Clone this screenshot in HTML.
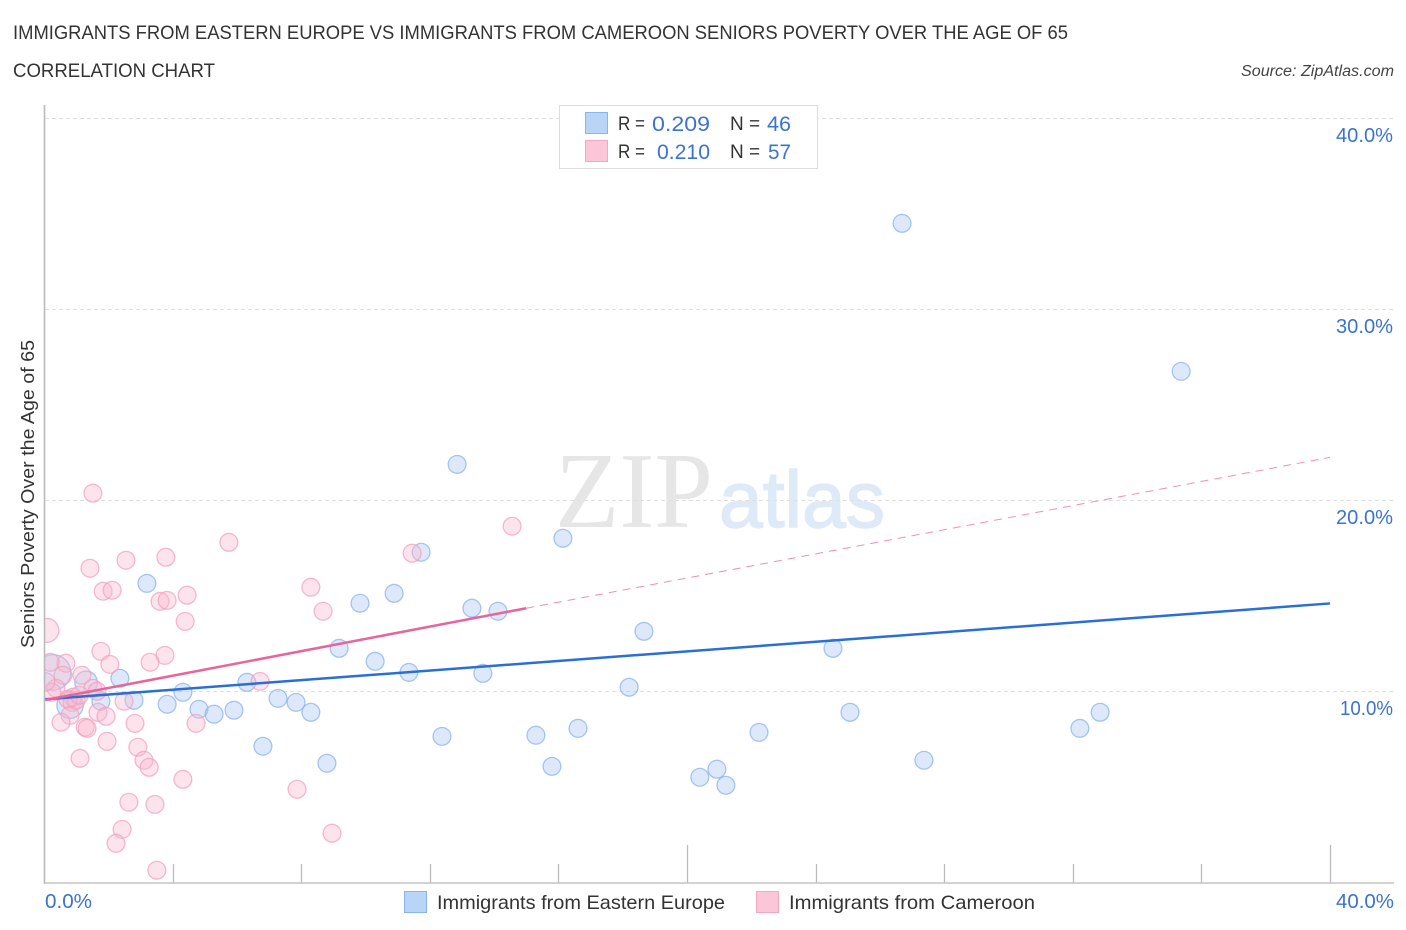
<!DOCTYPE html>
<html>
<head>
<meta charset="utf-8">
<title>Immigrants from Eastern Europe vs Immigrants from Cameroon Correlation Chart</title>
<style>
html,body{margin:0;padding:0;background:#fff;width:1406px;height:930px;overflow:hidden}
svg{display:block;font-family:"Liberation Sans",sans-serif}
</style>
</head>
<body>
<svg id="chart" width="1406" height="930" viewBox="0 0 1406 930">
  <defs>
    <clipPath id="plot-clip"><rect x="45" y="100" width="1360" height="783"/></clipPath>
  </defs>
  <rect x="0" y="0" width="1406" height="930" fill="#fff"/>
  <text x="13" y="39" font-size="19" fill="#333" textLength="1055" lengthAdjust="spacingAndGlyphs">IMMIGRANTS FROM EASTERN EUROPE VS IMMIGRANTS FROM CAMEROON SENIORS POVERTY OVER THE AGE OF 65</text>
  <text x="13" y="77" font-size="19" fill="#333" textLength="202" lengthAdjust="spacingAndGlyphs">CORRELATION CHART</text>
  <text x="1241" y="76" font-size="15.5" font-style="italic" fill="#444" textLength="153" lengthAdjust="spacingAndGlyphs">Source: ZipAtlas.com</text>

  <g>
    <text x="555" y="527" font-family="'Liberation Serif',serif" font-size="108" fill="#e6e6e6" textLength="158" lengthAdjust="spacingAndGlyphs">ZIP</text>
    <text x="719" y="527" font-size="80" fill="#dfeaf8" stroke="#dfeaf8" stroke-width="1.5" textLength="166" lengthAdjust="spacingAndGlyphs">atlas</text>
  </g>

  <g id="grid"></g>
  <g id="points" clip-path="url(#plot-clip)"></g>
  <g id="trends"></g>
  <g id="axes"></g>

  <text transform="translate(34 648) rotate(-90)" x="0" y="0" font-size="18" fill="#333" textLength="308" lengthAdjust="spacingAndGlyphs">Seniors Poverty Over the Age of 65</text>

  <g>
    <rect x="559.5" y="105.5" width="258" height="63" fill="#fff" stroke="#ddd" stroke-width="1"/>
    <rect x="585.5" y="112.5" width="22" height="21" fill="#b8d4f7" stroke="#8ab4ee"/>
    <rect x="585.5" y="140.5" width="22" height="21" fill="#fcc5d8" stroke="#f3a8c3"/>
    <text x="618" y="130" font-size="19" fill="#333" textLength="27" lengthAdjust="spacingAndGlyphs">R =</text>
    <text x="652" y="131" font-size="21" fill="#3b73d1" textLength="58" lengthAdjust="spacingAndGlyphs">0.209</text>
    <text x="730" y="130" font-size="19" fill="#333">N =</text>
    <text x="767" y="131" font-size="21" fill="#3b73d1" textLength="24" lengthAdjust="spacingAndGlyphs">46</text>
    <text x="618" y="158" font-size="19" fill="#333" textLength="27" lengthAdjust="spacingAndGlyphs">R =</text>
    <text x="657" y="159" font-size="21" fill="#3b73d1" textLength="53" lengthAdjust="spacingAndGlyphs">0.210</text>
    <text x="730" y="158" font-size="19" fill="#333">N =</text>
    <text x="768" y="159" font-size="21" fill="#3b73d1" textLength="23" lengthAdjust="spacingAndGlyphs">57</text>
  </g>

  <g>
    <rect x="404.5" y="891.5" width="22" height="21" fill="#b8d4f7" stroke="#8ab4ee"/>
    <text x="437" y="909" font-size="19.5" fill="#333" textLength="288" lengthAdjust="spacingAndGlyphs">Immigrants from Eastern Europe</text>
    <rect x="756.5" y="891.5" width="22" height="21" fill="#fcc5d8" stroke="#f3a8c3"/>
    <text x="789" y="909" font-size="19.5" fill="#333" textLength="246" lengthAdjust="spacingAndGlyphs">Immigrants from Cameroon</text>
  </g>
</svg>

<script>
const yTickValues = [10, 20, 30, 40];
const yTickLabels = ["10.0%", "20.0%", "30.0%", "40.0%"];
const xTickValues = [4, 8, 12, 16, 20, 24, 28, 32, 36, 40];
const xMajorTicks = [20, 40];
const xEndValues = [0, 40];
const xEndLabels = ["0.0%", "40.0%"];

const blueX = [26.69,35.37,12.85,11.73,16.14,3.20,9.83,10.89,13.31,14.12,18.66,9.18,10.30,24.54,11.35,13.65,18.20,2.36,1.31,6.31,4.32,2.80,1.77,3.83,4.82,5.29,5.91,7.28,7.84,8.30,6.81,8.80,12.38,15.30,16.61,15.80,22.24,20.40,20.93,21.21,27.37,25.07,32.22,32.85,0.81,0.28];
const blueY = [34.50,26.75,21.88,17.28,18.01,15.65,14.61,15.13,14.35,14.19,13.14,12.25,11.57,12.25,10.99,10.94,10.21,10.68,10.47,10.47,9.95,9.53,9.48,9.32,9.06,8.80,9.01,9.63,9.42,8.90,7.12,6.23,7.64,7.70,8.06,6.07,7.85,5.50,5.92,5.08,6.39,8.90,8.06,8.90,9.27,10.99];
const blueWeight = [1,1,1,1,1,1,1,1,1,1,1,1,1,1,1,1,1,1,1.6,1,1,1,1,1,1,1,1,1,1,1,1,1,1,1,1,1,1,1,1,1,1,1,1,1,2.2,4];

const pinkX = [1.52,5.75,3.79,2.55,1.43,1.84,2.12,3.61,3.83,4.45,4.39,8.30,8.68,11.45,14.56,0.09,1.77,2.05,3.76,3.30,0.68,0.19,1.18,0.59,0.37,0.25,1.52,1.65,6.72,0.90,0.87,1.00,0.75,2.49,0.81,0.53,1.68,1.93,2.83,1.28,1.34,4.73,1.96,1.12,2.92,3.11,3.27,4.32,7.87,2.64,3.45,2.43,2.24,3.51,8.96,0.06,1.10];
const pinkY = [20.37,17.80,17.02,16.86,16.44,15.24,15.29,14.71,14.76,15.03,13.66,15.45,14.19,17.23,18.64,13.19,12.09,11.41,11.88,11.52,11.47,11.52,10.84,10.84,10.16,9.95,10.16,10.00,10.52,9.69,9.42,9.53,9.58,9.48,8.74,8.38,8.90,8.69,8.32,8.12,8.06,8.32,7.38,6.49,7.07,6.39,6.02,5.39,4.87,4.19,4.08,2.77,2.04,0.63,2.57,10.50,9.80];
const pinkWeight = [1,1,1,1,1,1,1,1,1,1,1,1,1,1,1,1.8,1,1,1,1,1,1,1,1,1,1,1,1,1,1,1,1,1,1,1,1,1,1,1,1,1,1,1,1,1,1,1,1,1,1,1,1,1,1,1,1,1];

const blueTrendX = [0, 40];
const blueTrendY = [9.58, 14.60];
const pinkTrendX = [0, 15];
const pinkTrendY = [9.53, 14.35];
const pinkProjectionX = [15, 40];
const pinkProjectionY = [14.35, 22.25];

const xScale = function (v) { return 44 + v * 32.15; };
const yScale = function (v) { return 882.3 - v * 19.1; };
const rScale = function (w) { return 8.9 * Math.sqrt(w); };

const NS = "http://www.w3.org/2000/svg";
const gridGroup = document.getElementById("grid");
const pointGroup = document.getElementById("points");
const trendGroup = document.getElementById("trends");
const axisGroup = document.getElementById("axes");

function make(tag, attrs, parent) {
  const el = document.createElementNS(NS, tag);
  Object.keys(attrs).forEach(function (k) { el.setAttribute(k, attrs[k]); });
  parent.appendChild(el);
  return el;
}

yTickValues.forEach(function (v, i) {
  const y = Math.round(yScale(v)) + 0.5;
  const grid = make("line", { x1: 45, x2: 1393, y1: y, y2: y, stroke: "#e0e0e0", "stroke-width": 1, "stroke-dasharray": "4 3" }, gridGroup);
  
  
  const label = make("text", { x: 1393, y: yScale(v) + 23.5, "text-anchor": "end", "font-size": 20, fill: "#3b73d1", textLength: yTickLabels[i].charAt(0) === "1" ? 53 : 57, lengthAdjust: "spacingAndGlyphs" }, axisGroup);
  label.textContent = yTickLabels[i];
  
  
});

function drawPoints(xs, ys, ws, fill, stroke, name) {
  xs.forEach(function (x, i) {
    const c = make("circle", { cx: xScale(x), cy: yScale(ys[i]), r: rScale(ws[i]), fill: fill, "fill-opacity": 0.4, stroke: stroke, "stroke-opacity": 0.72, "stroke-width": 1.3 }, pointGroup);
    
    
  });
}
drawPoints(blueX, blueY, blueWeight, "#a9c9f5", "#86b0ec", "point-eastern-europe");
drawPoints(pinkX, pinkY, pinkWeight, "#fbb9cf", "#f09fbc", "point-cameroon");

const blueTrend = make("line", { x1: xScale(blueTrendX[0]), y1: yScale(blueTrendY[0]), x2: xScale(blueTrendX[1]), y2: yScale(blueTrendY[1]), stroke: "#2a6fd6", "stroke-width": 2.5 }, trendGroup);


const pinkProjection = make("line", { x1: xScale(pinkProjectionX[0]), y1: yScale(pinkProjectionY[0]), x2: xScale(pinkProjectionX[1]), y2: yScale(pinkProjectionY[1]), stroke: "#ee90b4", "stroke-width": 1, "stroke-dasharray": "8 6" }, trendGroup);


const pinkTrend = make("line", { x1: xScale(pinkTrendX[0]), y1: yScale(pinkTrendY[0]), x2: xScale(pinkTrendX[1]), y2: yScale(pinkTrendY[1]), stroke: "#e8649a", "stroke-width": 2.5 }, trendGroup);



const yAxis = make("line", { x1: 44.5, x2: 44.5, y1: 105, y2: 884, stroke: "#bbb", "stroke-width": 1.6 }, axisGroup);


const xAxis = make("line", { x1: 44, x2: 1394, y1: 883, y2: 883, stroke: "#c4c4c4", "stroke-width": 1.6 }, axisGroup);



xTickValues.forEach(function (v) {
  const x = Math.round(xScale(v)) + 0.5;
  const top = xMajorTicks.indexOf(v) >= 0 ? 845 : 864;
  const tick = make("line", { x1: x, x2: x, y1: top, y2: 883, stroke: "#bbb", "stroke-width": 1.3 }, axisGroup);
  
  
});

xEndValues.forEach(function (v, i) {
  const isLast = i === xEndValues.length - 1;
  const label = make("text", { x: isLast ? 1394 : 45, y: 908, "text-anchor": isLast ? "end" : "start", "font-size": 20, fill: "#3b73d1", textLength: isLast ? 58 : 47, lengthAdjust: "spacingAndGlyphs" }, axisGroup);
  label.textContent = xEndLabels[i];
  
  
});
</script>
</body>
</html>
